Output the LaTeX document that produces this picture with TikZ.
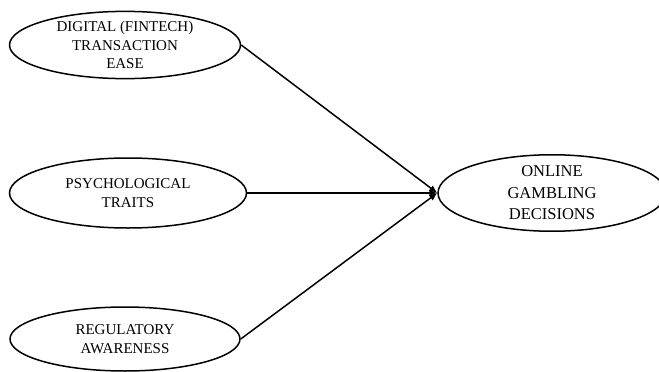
\documentclass[tikz,border=0pt]{standalone}
\usepackage{fontspec}
\setmainfont{Liberation Serif}
\usetikzlibrary{shapes.geometric,arrows.meta}

\tikzset{
  factor/.style={draw, line width=1.5pt, ellipse, inner sep=0pt, align=center,
    font=\fontsize{15}{18.5}\selectfont},
  outcome/.style={factor, font=\fontsize{16.5}{21.5}\selectfont},
  link/.style={line width=1.5pt, -{Latex[length=8pt,width=7pt]}}
}

\begin{document}
\begin{tikzpicture}[x=1pt,y=-1pt]
  \useasboundingbox (0,0) rectangle (659,372);
  \clip (0,0) rectangle (659,372);
  \node [factor, minimum width=231pt, minimum height=67pt] (fintech) at (125,45)
    {DIGITAL (FINTECH)\\TRANSACTION\\EASE};
  \node [factor, minimum width=237pt, minimum height=70pt] (psych) at (128,193)
    {PSYCHOLOGICAL\\TRAITS};
  \node [factor, minimum width=230pt, minimum height=64pt] (reg) at (125,339)
    {REGULATORY\\AWARENESS};
  \node [outcome, minimum width=228pt, minimum height=68pt] (gamble) at (552,193)
    {ONLINE\\GAMBLING\\DECISIONS};
  % paths into the outcome
  \foreach\P in {fintech,psych,reg} \draw[link](\P.east)--(gamble.west);
\end{tikzpicture}
\end{document}
